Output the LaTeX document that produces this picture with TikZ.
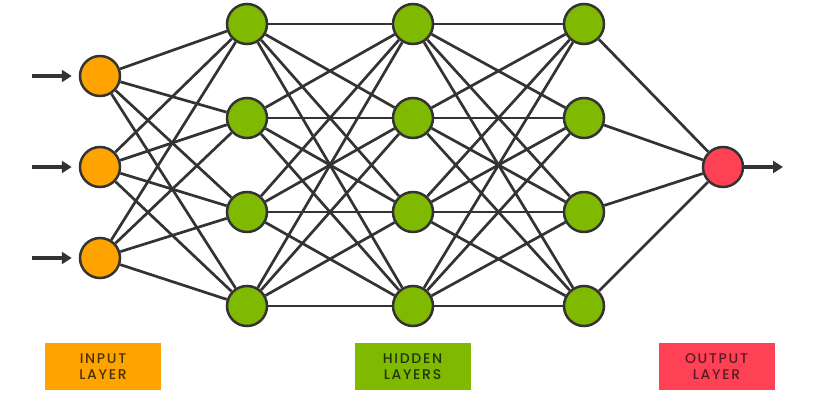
\documentclass[tikz,border=0pt]{standalone}
\usepackage{fontspec}
\newfontfamily\labelfont[LetterSpace=12.0,UprightFont={* Medium}]{Poppins}
\usetikzlibrary{arrows.meta}
\definecolor{inorange}{HTML}{FFA300}
\definecolor{hidgreen}{HTML}{7FBA00}
\definecolor{outred}{HTML}{FF4155}
\definecolor{edgegray}{HTML}{333333}
\definecolor{intext}{HTML}{4A3200}
\definecolor{hidtext}{HTML}{22330A}
\definecolor{outtext}{HTML}{5C1A22}
\tikzset{
  neuron/.style={circle,draw=edgegray,line width=2.5pt,minimum size=40pt,inner sep=0pt},
  inneuron/.style={neuron,fill=inorange},
  hidneuron/.style={neuron,fill=hidgreen},
  outneuron/.style={neuron,fill=outred},
  layerbox/.style={minimum width=116pt,minimum height=47pt,inner sep=0pt,
    align=center,font=\labelfont\fontsize{14}{16.5}\selectfont},
  signal/.style={line width=4pt,draw=edgegray,-{Triangle[length=10pt,width=12pt]}}
}
\begin{document}
\begin{tikzpicture}[x=1pt,y=-1pt]
      \useasboundingbox (0,0) rectangle (820,415);
      \draw
        (100,76) node[inneuron] (i1){}
        (100,167) node[inneuron] (i2){}
        (100,258) node[inneuron] (i3){}
        (247,24) node[hidneuron] (a1){}
        (247,118) node[hidneuron] (a2){}
        (247,212) node[hidneuron] (a3){}
        (247,306) node[hidneuron] (a4){}
        (413,24) node[hidneuron] (b1){}
        (413,118) node[hidneuron] (b2){}
        (413,212) node[hidneuron] (b3){}
        (413,306) node[hidneuron] (b4){}
        (584,24) node[hidneuron] (c1){}
        (584,118) node[hidneuron] (c2){}
        (584,212) node[hidneuron] (c3){}
        (584,306) node[hidneuron] (c4){}
        (723,167) node[outneuron] (o){};
      \coordinate (s1) at (32,76);
      \coordinate (s2) at (32,167);
      \coordinate (s3) at (32,258);
      \coordinate (r) at (783,167);
      \begin{scope}[-,line width=2.7pt,edgegray]
        \draw (i1) to (a1);
        \draw (i1) to (a2);
        \draw (i1) to (a3);
        \draw (i1) to (a4);
        \draw (i2) to (a1);
        \draw (i2) to (a2);
        \draw (i2) to (a3);
        \draw (i2) to (a4);
        \draw (i3) to (a1);
        \draw (i3) to (a2);
        \draw (i3) to (a3);
        \draw (i3) to (a4);
        \draw (a1) to (b1);
        \draw (a1) to (b2);
        \draw (a1) to (b3);
        \draw (a1) to (b4);
        \draw (a2) to (b1);
        \draw (a2) to (b2);
        \draw (a2) to (b3);
        \draw (a2) to (b4);
        \draw (a3) to (b1);
        \draw (a3) to (b2);
        \draw (a3) to (b3);
        \draw (a3) to (b4);
        \draw (a4) to (b1);
        \draw (a4) to (b2);
        \draw (a4) to (b3);
        \draw (a4) to (b4);
        \draw (b1) to (c1);
        \draw (b1) to (c2);
        \draw (b1) to (c3);
        \draw (b1) to (c4);
        \draw (b2) to (c1);
        \draw (b2) to (c2);
        \draw (b2) to (c3);
        \draw (b2) to (c4);
        \draw (b3) to (c1);
        \draw (b3) to (c2);
        \draw (b3) to (c3);
        \draw (b3) to (c4);
        \draw (b4) to (c1);
        \draw (b4) to (c2);
        \draw (b4) to (c3);
        \draw (b4) to (c4);
        \draw (c1) to (o);
        \draw (c2) to (o);
        \draw (c3) to (o);
        \draw (c4) to (o);
      \end{scope}
      \begin{scope}[signal]
        \draw[shorten >=7pt] (s1) to (i1);
        \draw[shorten >=7pt] (s2) to (i2);
        \draw[shorten >=7pt] (s3) to (i3);
        \draw (o) to (r);
      \end{scope}
      \node[layerbox,fill=inorange,text=intext] (inbox) at (103,366.5) {INPUT\\LAYER};
      \node[layerbox,fill=hidgreen,text=hidtext] (hidbox) at (412.5,366.5) {HIDDEN\\LAYERS};
      \node[layerbox,fill=outred,text=outtext] (outbox) at (716.5,366.5) {OUTPUT\\LAYER};
    \end{tikzpicture}
\end{document}
